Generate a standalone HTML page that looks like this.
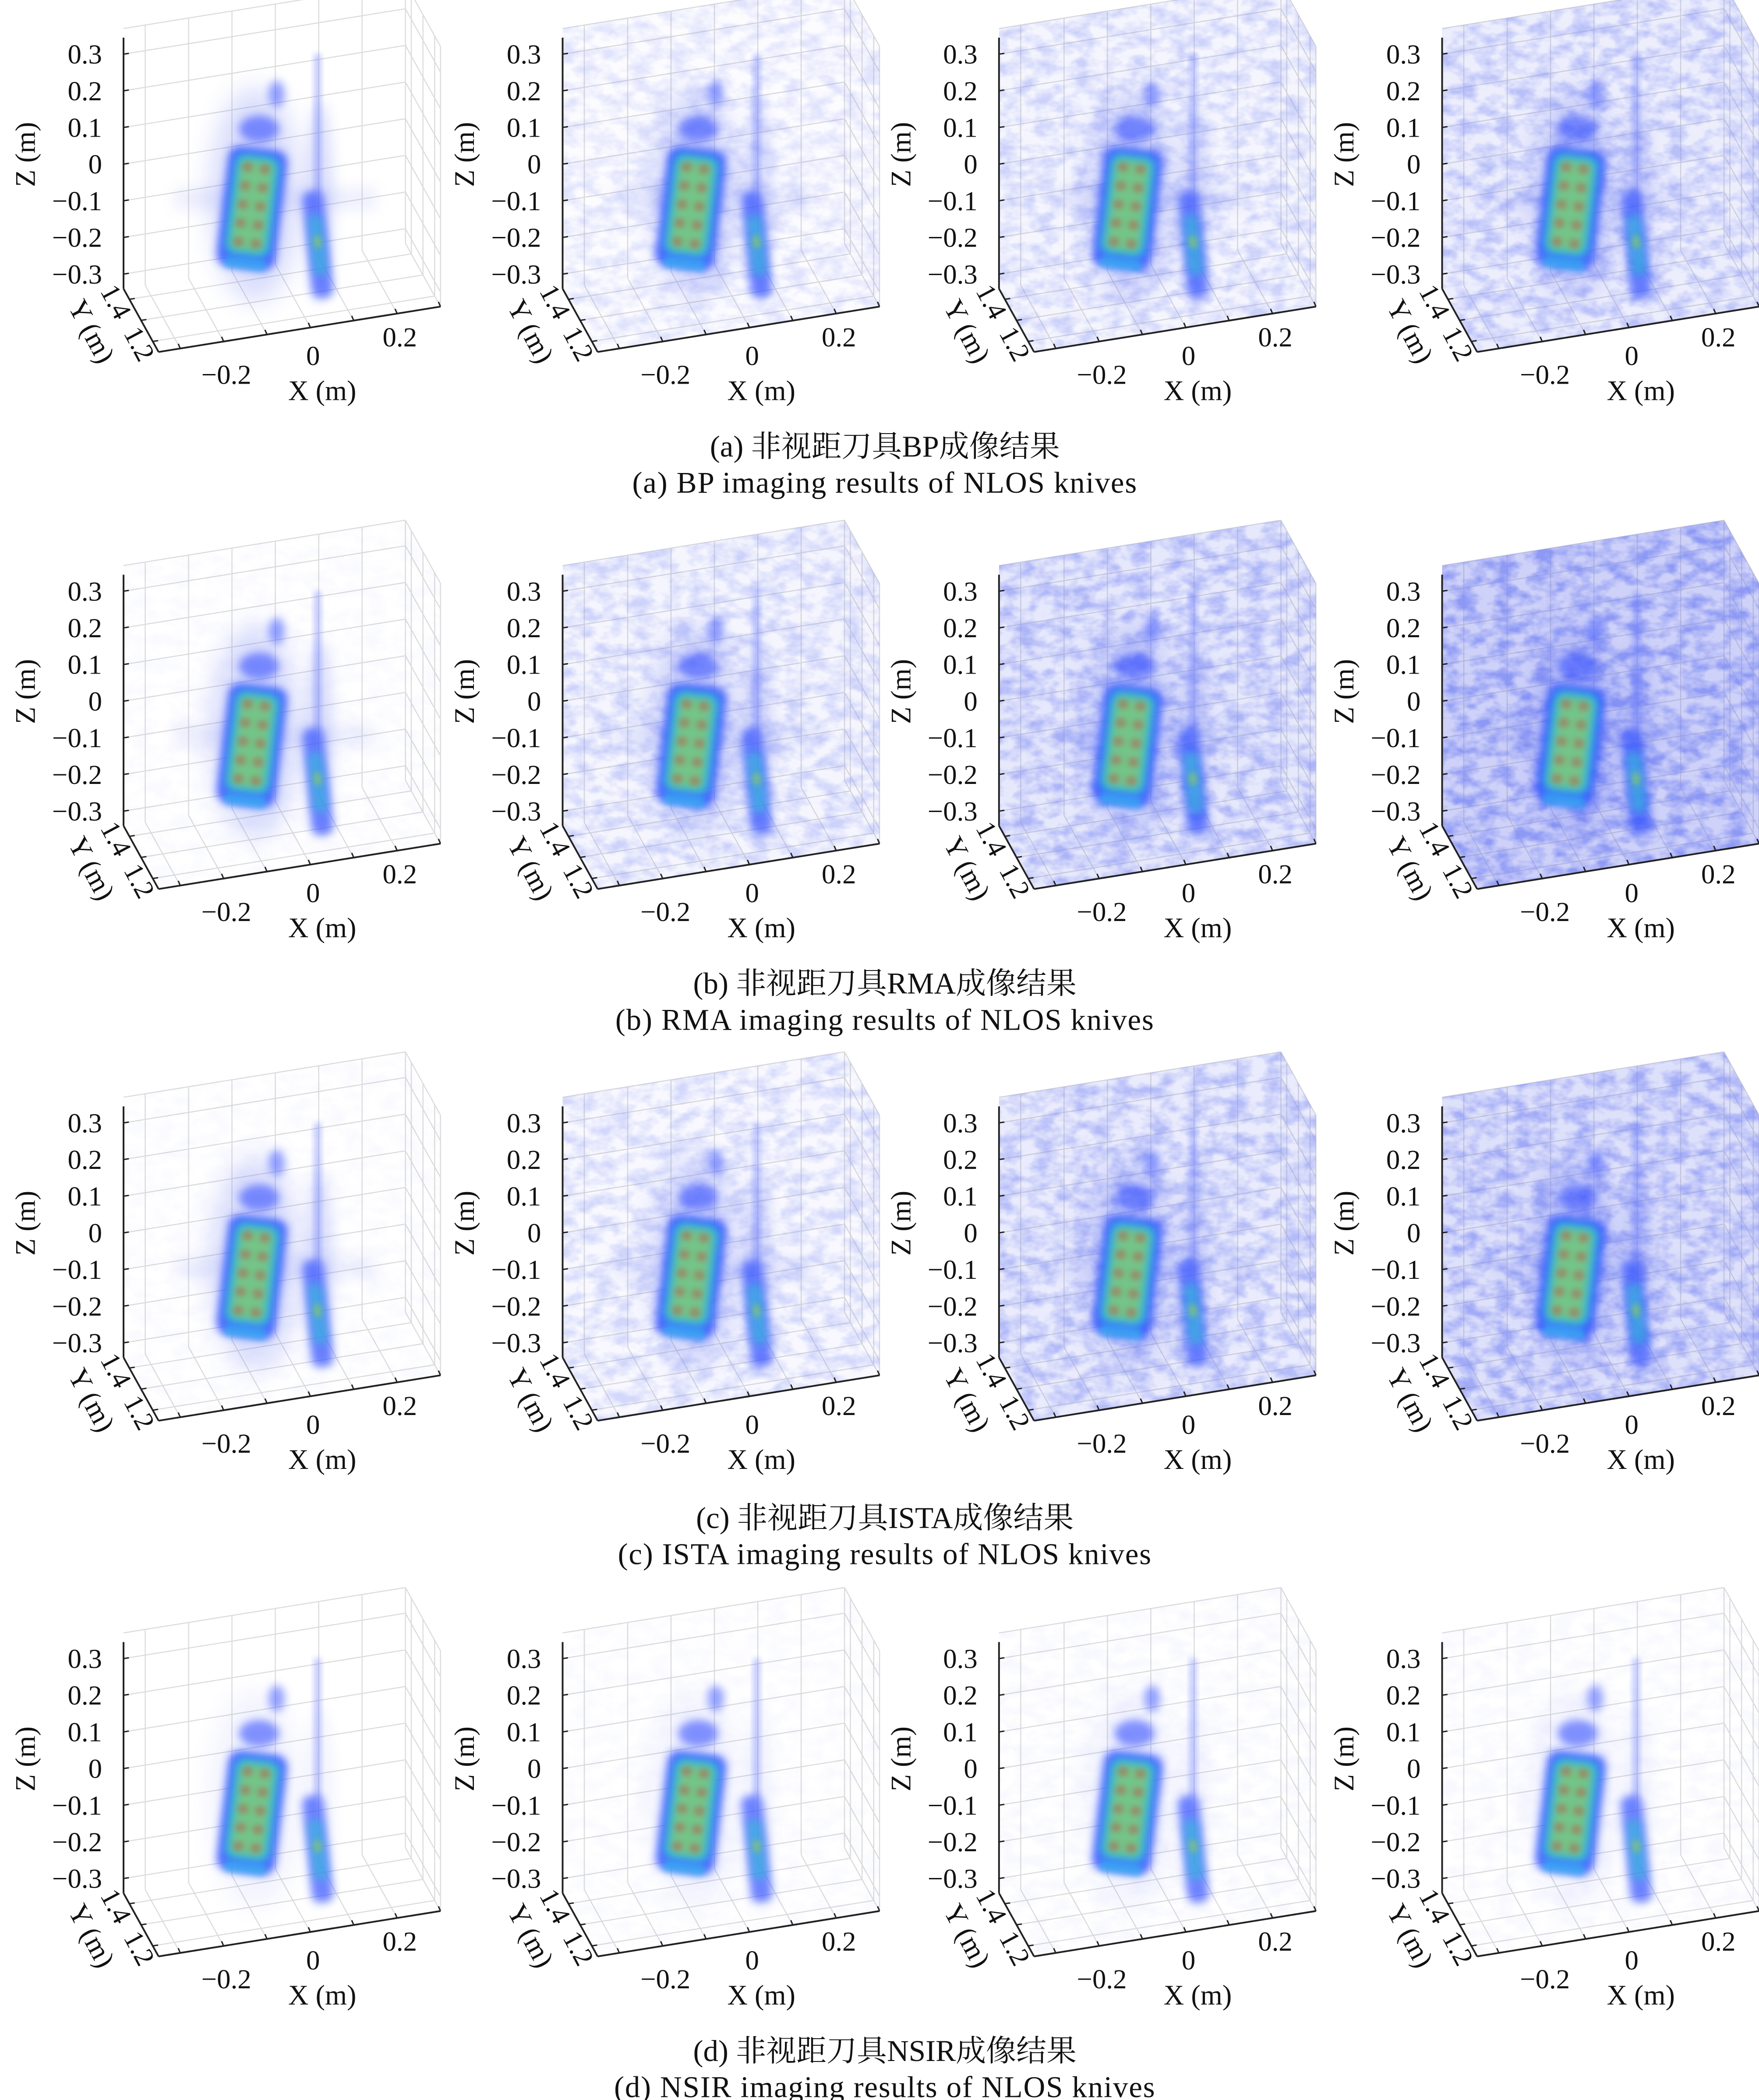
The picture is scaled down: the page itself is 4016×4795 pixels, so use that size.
<!DOCTYPE html>
<html><head><meta charset="utf-8">
<style>
html,body{margin:0;padding:0;background:#fff;}
svg{display:block;font-family:"Liberation Serif","Noto Serif CJK SC",serif;}
</style></head>
<body>
<svg id="fig" xmlns="http://www.w3.org/2000/svg" width="4016" height="4795" viewBox="0 0 1310 1564">
<defs>
  <filter id="b2" x="-50%" y="-50%" width="200%" height="200%"><feGaussianBlur stdDeviation="2.2"/></filter>
  <filter id="b3" x="-50%" y="-50%" width="200%" height="200%"><feGaussianBlur stdDeviation="3.2"/></filter>
  <filter id="b5" x="-50%" y="-50%" width="200%" height="200%"><feGaussianBlur stdDeviation="5"/></filter>
  <filter id="b9" x="-50%" y="-50%" width="200%" height="200%"><feGaussianBlur stdDeviation="9"/></filter>
</defs>
</svg>
<script>
const NS="http://www.w3.org/2000/svg";
const svg=document.getElementById('fig');
const zTicks=[0.3,0.2,0.1,0,-0.1,-0.2,-0.3];
const zTickLabels=["0.3","0.2","0.1","0","\u22120.1","\u22120.2","\u22120.3"];
const xTicks=[-0.2,0,0.2];
const xTickLabels=["\u22120.2","0","0.2"];
const yTicks=[1.4,1.2];
const yTickLabels=["1.4","1.2"];
const xGrid=[-0.3,-0.2,-0.1,0,0.1,0.2,0.3];
const yGrid=[1.2,1.3,1.4];
const rowNames=["bp","rma","ista","nsir"];
const captionsCN=["(a) 非视距刀具BP成像结果","(b) 非视距刀具RMA成像结果","(c) 非视距刀具ISTA成像结果","(d) 非视距刀具NSIR成像结果"];
const captionsEN=["(a) BP imaging results of NLOS knives","(b) RMA imaging results of NLOS knives","(c) ISTA imaging results of NLOS knives","(d) NSIR imaging results of NLOS knives"];
const noiseLevel=[[0.0,0.25,0.4,0.55],[0.04,0.4,0.65,0.9],[0.04,0.35,0.6,0.75],[0.0,0.04,0.06,0.05]];
const rowOffsets=[0,400,796,1195];
const colOffsets=[0,327,652,982];
const captionY=[333,733,1131,1528];

function el(tag,attrs,parent){const e=document.createElementNS(NS,tag);for(const k in attrs)e.setAttribute(k,attrs[k]);(parent||svg).appendChild(e);return e;}
const defs=svg.querySelector('defs');

// Y runs from 1.45 (back) to 1.15 (front)
function proj(ox,oy,X,Y,Z){
  return [ox+92+(X+0.35)*323-(Y-1.45)*87, oy+215-(X+0.35)*52-(Y-1.45)*157-(Z+0.34)*273];
}
function line(g,a,b,st,w){return el('line',{x1:a[0],y1:a[1],x2:b[0],y2:b[1],stroke:st,'stroke-width':w},g);}

let fid=0;
function panel(r,c){
  const ox=colOffsets[c], oy=rowOffsets[r];
  const g=el('g',{});
  
  
  const P=(X,Y,Z)=>proj(ox,oy,X,Y,Z);
  const gc="#dcdcdc";
  const YB=1.45, YF=1.15, ZT=0.37;
  const grid=el('g',{},g);
  
  
  for(const x of xGrid){line(grid,P(x,YB,-0.34),P(x,YB,ZT),gc,0.8);}
  for(const z of zTicks){line(grid,P(-0.35,YB,z),P(0.3,YB,z),gc,0.8);}
  line(grid,P(-0.35,YB,ZT),P(0.3,YB,ZT),gc,0.8);
  for(const z of zTicks){line(grid,P(0.3,YB,z),P(0.3,YF,z),gc,0.8);}
  for(const y of yGrid){line(grid,P(0.3,y,-0.34),P(0.3,y,ZT),gc,0.8);}
  line(grid,P(0.3,YF,-0.34),P(0.3,YF,ZT),gc,0.8);
  line(grid,P(0.3,YB,ZT),P(0.3,YF,ZT),gc,0.8);
  for(const x of xGrid){line(grid,P(x,YB,-0.34),P(x,YF,-0.34),gc,0.8);}
  for(const y of yGrid){line(grid,P(-0.35,y,-0.34),P(0.3,y,-0.34),gc,0.8);}
  const lvl=noiseLevel[r][c];
  if(lvl>0){
    fid++;
    const f=el('filter',{id:'n'+fid,x:0,y:0,width:'100%',height:'100%'},defs);
    el('feTurbulence',{type:'fractalNoise',baseFrequency:'0.07 0.11',numOctaves:3,seed:fid*7},f);
    el('feColorMatrix',{type:'matrix',values:'0 0 0 0 0.22  0 0 0 0 0.27  0 0 0 0 0.9  2.4 0 0 0 -0.85'},f);
    const cp=el('clipPath',{id:'c'+fid},defs);
    const pts=[P(-0.35,YB,ZT),P(0.3,YB,ZT),P(0.3,YF,ZT),P(0.3,YF,-0.34),P(-0.35,YF,-0.34),P(-0.35,YB,-0.34)];
    el('polygon',{points:pts.map(p=>p.join(',')).join(' ')},cp);
    const haze=el('g',{'clip-path':'url(#c'+fid+')',opacity:Math.min(1,lvl)},g);
    
    
    el('rect',{x:ox+60,y:oy-20,width:300,height:300,fill:'#3a48e0',opacity:0.3*lvl},haze);
    el('rect',{x:ox+60,y:oy-20,width:300,height:300,filter:'url(#n'+fid+')'},haze);
  }
  const k=el('g',{},g);
  
  
  const halo = r===3 ? 0.08 : 0.22;
  el('ellipse',{cx:ox+190,cy:oy+145,rx:34,ry:80,fill:'#5566f0',opacity:halo,filter:'url(#b9)'},k);
  el('ellipse',{cx:ox+238,cy:oy+150,rx:10,ry:75,fill:'#5566f0',opacity:halo,filter:'url(#b5)'},k);
  if(r!==3){el('rect',{x:ox+130,y:oy+140,width:150,height:16,fill:'#7080ee',opacity:0.12,filter:'url(#b5)'},k);}
  el('ellipse',{cx:ox+193,cy:oy+96,rx:15,ry:10,fill:'#3550ff',opacity:0.6,filter:'url(#b3)'},k);
  el('ellipse',{cx:ox+206,cy:oy+70,rx:6,ry:10,fill:'#4058ff',opacity:0.55,filter:'url(#b3)'},k);
  el('rect',{x:ox+234,y:oy+40,width:5,height:105,fill:'#6578ff',opacity:0.4,filter:'url(#b2)'},k);
  const h=el('g',{transform:'rotate(7 '+(ox+188)+' '+(oy+152)+')'},k);
  el('rect',{x:ox+166,y:oy+110,width:44,height:90,rx:9,fill:'#3350ff',opacity:0.85,filter:'url(#b3)'},h);
  el('rect',{x:ox+171,y:oy+115,width:34,height:76,rx:7,fill:'#2cc4e0',opacity:0.85,filter:'url(#b3)'},h);
  el('rect',{x:ox+175,y:oy+119,width:26,height:68,rx:5,fill:'#80c87a',opacity:0.85,filter:'url(#b3)'},h);
  for(let i=0;i<5;i++)for(let j=0;j<2;j++){
    el('ellipse',{cx:ox+181+j*13,cy:oy+125+i*14,rx:4,ry:3.5,fill:'#b85a48',opacity:0.55,filter:'url(#b2)'},h);
  }
  el('rect',{x:ox+172,y:oy+192,width:32,height:9,rx:4,fill:'#30b0f0',opacity:0.7,filter:'url(#b2)'},h);
  const h2=el('g',{transform:'rotate(-6 '+(ox+237)+' '+(oy+185)+')'},k);
  el('rect',{x:ox+229,y:oy+142,width:16,height:80,rx:6,fill:'#3552ff',opacity:0.7,filter:'url(#b3)'},h2);
  el('rect',{x:ox+232,y:oy+160,width:10,height:45,rx:4,fill:'#30c0d8',opacity:0.65,filter:'url(#b3)'},h2);
  el('ellipse',{cx:ox+237,cy:oy+180,rx:3,ry:5,fill:'#90c860',opacity:0.7,filter:'url(#b2)'},h2);
  const ax=el('g',{},g);
  
  
  line(ax,P(-0.35,YB,-0.34),P(-0.35,YB,0.345),'#222',1.3);
  line(ax,P(-0.35,YB,-0.34),P(-0.35,YF,-0.34),'#222',1.3);
  line(ax,P(-0.35,YF,-0.34),P(0.3,YF,-0.34),'#222',1.3);
  zTicks.forEach((z,i)=>{
    const p=P(-0.35,YB,z);
    line(ax,p,[p[0]+4,p[1]-0.6],'#222',1);
    const t=el('text',{x:p[0]-16,y:p[1]+7,'font-size':20.5,'text-anchor':'end',fill:'#111'},ax);
    t.textContent=zTickLabels[i];
    
    
  });
  xGrid.forEach(x=>{const p=P(x,YF,-0.34);line(ax,p,[p[0]-1.5,p[1]-3.5],'#222',1);});
  xTicks.forEach((x,i)=>{
    const p=P(x,YF,-0.34);
    const t=el('text',{x:p[0]+2,y:p[1]+28-x*18,'font-size':20.5,'text-anchor':'middle',fill:'#111'},ax);
    t.textContent=xTickLabels[i];
    
    
  });
  yGrid.forEach(y=>{const p=P(-0.35,y,-0.34);line(ax,p,[p[0]+4,p[1]-0.6],'#222',1);});
  yTicks.forEach((y,i)=>{
    const p=P(-0.35,y,-0.34);
    const tx=p[0]-16, ty=p[1]+5;
    const t=el('text',{x:tx,y:ty,'font-size':20.5,'text-anchor':'middle',fill:'#111',transform:'rotate(62 '+tx+' '+ty+')'},ax);
    t.textContent=yTickLabels[i];
    
    
  });
  const zt=el('text',{x:ox+26,y:oy+115,'font-size':21,'text-anchor':'middle',fill:'#111',transform:'rotate(-90 '+(ox+26)+' '+(oy+115)+')'},ax);
  zt.textContent='Z (m)';
  
  
  const yt=el('text',{x:ox+62,y:oy+250,'font-size':21,'text-anchor':'middle',fill:'#111',transform:'rotate(62 '+(ox+62)+' '+(oy+250)+')'},ax);
  yt.textContent='Y (m)';
  
  
  const xt=el('text',{x:ox+240,y:oy+298,'font-size':21,'text-anchor':'middle',fill:'#111'},ax);
  xt.textContent='X (m)';
  
  
}
for(let r=0;r<4;r++){
  for(let c=0;c<4;c++)panel(r,c);
  const t1=el('text',{x:659,y:captionY[r]+7,'font-size':22.5,'text-anchor':'middle',fill:'#111'});
  t1.textContent=captionsCN[r];
  
  
  const t2=el('text',{x:659,y:captionY[r]+34,'font-size':22.5,'text-anchor':'middle','letter-spacing':'0.6',fill:'#111'});
  t2.textContent=captionsEN[r];
  
  
}
</script>
</body></html>
